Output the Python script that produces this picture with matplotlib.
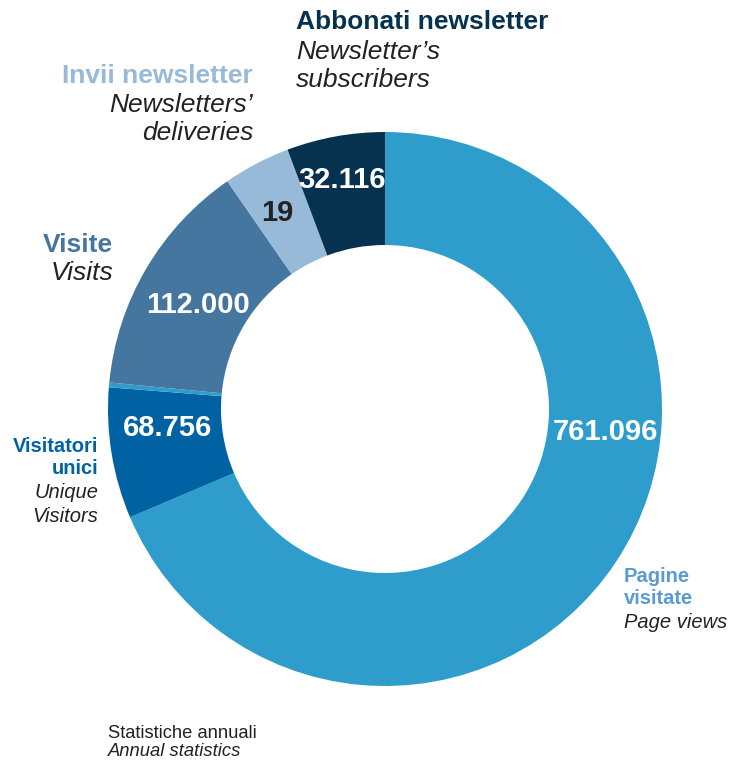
import numpy as np
from matplotlib import pyplot as plt

plt.rcParams['font.family'] = ['Liberation Sans', 'DejaVu Sans']

# dati (ordine orario partendo dalle 12)
categorie = ['Pagine visitate', 'Visitatori unici', '', 'Visite', 'Invii newsletter', 'Abbonati newsletter']
traduzioni = ['Page views', 'Unique Visitors', '', 'Visits', "Newsletters’ deliveries", 'Newsletter’s subscribers']
valori = [761096, 68756, None, 112000, 19, 32116]
# ampiezza delle fette (gradi, non proporzionale ai valori)
ampiezze = [247.0, 27.5, 1.0, 49.8, 14.1, 20.6]
colori = ['#2e9dcc', '#0062a3', '#2e9dcc', '#44769f', '#97bad9', '#06324f']


def fmt(v):
    return '{:,}'.format(v).replace(',', '.')


W, H = 733, 760
fig = plt.figure(figsize=(W / 100, H / 100), dpi=100)
ax = fig.add_axes([0, 0, 1, 1])

cx, cy = 385, H - 409
R = 277
ax.pie(ampiezze, colors=colori, startangle=90, counterclock=False,
       radius=R, center=(cx, cy), wedgeprops=dict(width=R - 164, linewidth=0),
       frame=True)
ax.set_xlim(0, W)
ax.set_ylim(0, H)
ax.set_aspect('equal')
ax.axis('off')


def txt(x, y, s, **kw):
    ax.text(x, H - y, s, va='center', **kw)


#valori dentro le fette
pos_val = [(605, 432), (167, 428), None, (198, 305), (277, 213), (342, 180)]
col_val = ['white', 'white', None, 'white', '#222222', 'white']
for v, p, c in zip(valori, pos_val, col_val):
    if v is None:
        continue
    txt(p[0], p[1], fmt(v), ha='center', color=c, fontsize=21, fontweight='bold')

#etichette esterne
txt(296, 22, 'Abbonati newsletter', ha='left', color='#06324f', fontsize=19, fontweight='bold')
txt(296, 52, 'Newsletter’s', ha='left', color='#222222', fontsize=19, style='italic')
txt(296, 80, 'subscribers', ha='left', color='#222222', fontsize=19, style='italic')

txt(253, 76, 'Invii newsletter', ha='right', color='#97bad9', fontsize=19, fontweight='bold')
txt(253, 105, 'Newsletters’', ha='right', color='#222222', fontsize=19, style='italic')
txt(253, 133, 'deliveries', ha='right', color='#222222', fontsize=19, style='italic')

txt(113, 245, 'Visite', ha='right', color='#44769f', fontsize=19, fontweight='bold')
txt(113, 273, 'Visits', ha='right', color='#222222', fontsize=19, style='italic')

txt(98, 446, 'Visitatori', ha='right', color='#0062a3', fontsize=14.5, fontweight='bold')
txt(98, 469, 'unici', ha='right', color='#0062a3', fontsize=14.5, fontweight='bold')
txt(98, 493, 'Unique', ha='right', color='#222222', fontsize=14.5, style='italic')
txt(98, 517, 'Visitors', ha='right', color='#222222', fontsize=14.5, style='italic')

txt(624, 576, 'Pagine', ha='left', color='#5a9bd3', fontsize=14.5, fontweight='bold')
txt(624, 599, 'visitate', ha='left', color='#5a9bd3', fontsize=14.5, fontweight='bold')
txt(624, 622, 'Page views', ha='left', color='#222222', fontsize=14.5, style='italic')

txt(108, 734, 'Statistiche annuali', ha='left', color='#222222', fontsize=13.2)
txt(108, 751, 'Annual statistics', ha='left', color='#222222', fontsize=13.2, style='italic')

plt.savefig('out.png', dpi=100)
